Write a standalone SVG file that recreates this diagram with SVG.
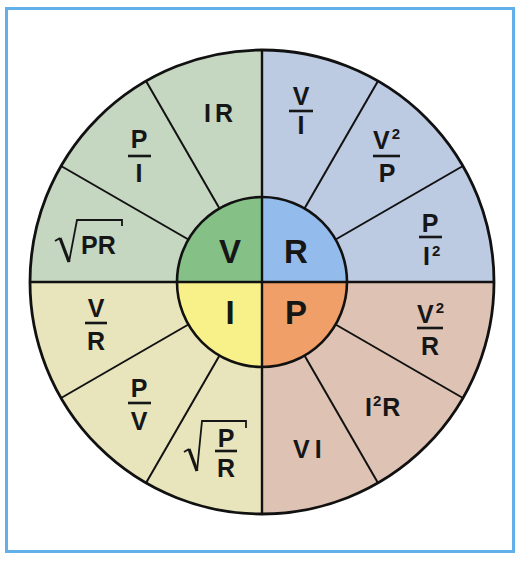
<svg xmlns="http://www.w3.org/2000/svg" width="528" height="562" viewBox="0 0 528 562">
<style>
.t{font-family:"Liberation Sans",Arial,sans-serif;font-weight:bold;fill:#161616}
.o{font-size:25px}
.c{font-size:33px}
.m{text-anchor:middle}
.s{font-size:15px}
.ln{stroke:#111;fill:none}
.bar{stroke:#161616;stroke-width:2.6}
.rad{stroke:#161616;fill:none;stroke-linejoin:miter}
</style>
<rect x="0" y="0" width="528" height="562" fill="#ffffff"/>
<rect x="6.5" y="8.5" width="507" height="543" fill="#ffffff" stroke="#62b0ea" stroke-width="3"/>
<g id="outer-sectors">
<path d="M262,282 L30,282 A232,232 0 0 1 262,50 Z" fill="#c5d6c1"/>
<path d="M262,282 L262,50 A232,232 0 0 1 494,282 Z" fill="#bccae2"/>
<path d="M262,282 L494,282 A232,232 0 0 1 262,514 Z" fill="#dec3b4"/>
<path d="M262,282 L262,514 A232,232 0 0 1 30,282 Z" fill="#e8e5bc"/>
</g>
<g id="inner-sectors">
<path d="M262,282 L177,282 A85,85 0 0 1 262,197 Z" fill="#85c187"/>
<path d="M262,282 L262,197 A85,85 0 0 1 347,282 Z" fill="#93bbec"/>
<path d="M262,282 L347,282 A85,85 0 0 1 262,367 Z" fill="#f09f68"/>
<path d="M262,282 L262,367 A85,85 0 0 1 177,282 Z" fill="#f8f18a"/>
</g>
<g id="connectors" class="ln">
<g stroke-width="2">
<line x1="335.6" y1="239.5" x2="462.9" y2="166"/>
<line x1="304.5" y1="208.4" x2="378" y2="81.1"/>
<line x1="219.5" y1="208.4" x2="146" y2="81.1"/>
<line x1="188.4" y1="239.5" x2="61.1" y2="166"/>
<line x1="188.4" y1="324.5" x2="61.1" y2="398"/>
<line x1="219.5" y1="355.6" x2="146" y2="482.9"/>
<line x1="304.5" y1="355.6" x2="378" y2="482.9"/>
<line x1="335.6" y1="324.5" x2="462.9" y2="398"/>
</g>
<line x1="30" y1="282" x2="494" y2="282" stroke-width="2.6"/>
<line x1="262" y1="50" x2="262" y2="514" stroke-width="2.4"/>
<circle cx="262" cy="282" r="85" stroke-width="2.6"/>
<circle cx="262" cy="282" r="232" stroke-width="2.8"/>
</g>
<g id="node-V"><text class="t c m" x="230" y="263">V</text></g>
<g id="node-R"><text class="t c m" x="296" y="263">R</text></g>
<g id="node-I"><text class="t c m" x="230" y="324">I</text></g>
<g id="node-P"><text class="t c m" x="296" y="324">P</text></g>
<g id="node-IR"><text class="t o" x="204" y="122">I<tspan dx="4">R</tspan></text></g>
<g id="node-V-over-I">
<text class="t o m" x="301" y="105">V</text>
<line class="bar" x1="289" y1="111" x2="313" y2="111"/>
<text class="t o m" x="301" y="134">I</text>
</g>
<g id="node-V2-over-P">
<text class="t o" x="373" y="149">V<tspan class="s" dx="2" dy="-10">2</tspan></text>
<line class="bar" x1="373" y1="156" x2="400" y2="156"/>
<text class="t o m" x="387" y="182">P</text>
</g>
<g id="node-P-over-I2">
<text class="t o m" x="430" y="232">P</text>
<line class="bar" x1="419" y1="237" x2="442" y2="237"/>
<text class="t o" x="423" y="265">I<tspan class="s" dx="2" dy="-9">2</tspan></text>
</g>
<g id="node-P-over-I">
<text class="t o m" x="139" y="148">P</text>
<line class="bar" x1="128" y1="156" x2="151" y2="156"/>
<text class="t o m" x="139" y="182">I</text>
</g>
<g id="node-sqrt-PR">
<path class="rad" stroke-width="2" d="M55,241 L60,238"/>
<path class="rad" stroke-width="3.2" d="M60,238 L69,262"/>
<path class="rad" stroke-width="1.8" d="M69,262 L77,220 L122,220 L122,226"/>
<text class="t o" x="81" y="254">PR</text>
</g>
<g id="node-V-over-R">
<text class="t o m" x="96" y="317">V</text>
<line class="bar" x1="85" y1="323" x2="107" y2="323"/>
<text class="t o m" x="96" y="350">R</text>
</g>
<g id="node-P-over-V">
<text class="t o m" x="139" y="397">P</text>
<line class="bar" x1="128" y1="403" x2="151" y2="403"/>
<text class="t o m" x="139" y="430">V</text>
</g>
<g id="node-sqrt-P-over-R">
<path class="rad" stroke-width="2" d="M184,452 L189,449"/>
<path class="rad" stroke-width="3.2" d="M189,449 L197,471"/>
<path class="rad" stroke-width="1.8" d="M197,471 L202,421 L246,421 L246,428"/>
<text class="t o m" x="226" y="447">P</text>
<line class="bar" x1="215" y1="451" x2="237" y2="451"/>
<text class="t o m" x="226" y="477">R</text>
</g>
<g id="node-VI"><text class="t o" x="293" y="458">V<tspan dx="5">I</tspan></text></g>
<g id="node-I2R"><text class="t o" x="365" y="416">I<tspan class="s" dx="1" dy="-10">2</tspan><tspan dx="1" dy="10">R</tspan></text></g>
<g id="node-V2-over-R">
<text class="t o" x="417" y="323">V<tspan class="s" dx="2" dy="-10">2</tspan></text>
<line class="bar" x1="417" y1="328" x2="443" y2="328"/>
<text class="t o m" x="430" y="355">R</text>
</g>
</svg>
